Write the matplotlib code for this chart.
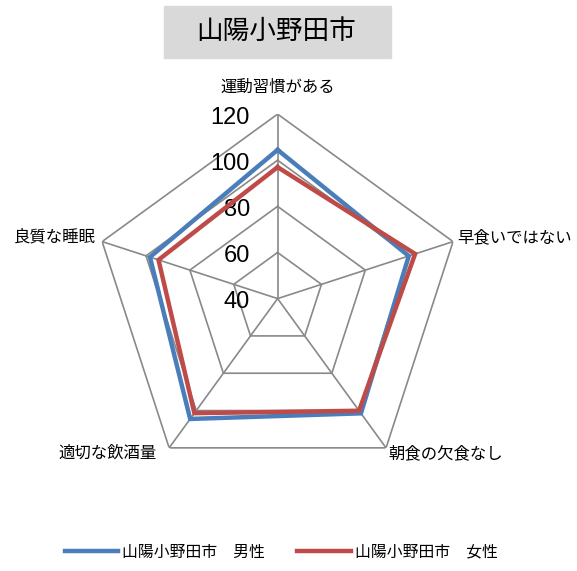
import numpy as np
import matplotlib.pyplot as plt
from matplotlib.patches import Rectangle

plt.rcParams['font.family'] = ['Noto Sans CJK JP', 'DejaVu Sans']

categories = ['運動習慣がある', '早食いではない', '朝食の欠食なし', '適切な飲酒量', '良質な睡眠']
male = [104.5, 99.8, 101.5, 104.5, 98.2]
female = [97.0, 102.7, 100.1, 101.4, 94.3]
levels = [40, 60, 80, 100, 120]
title = '山陽小野田市'
labels = ['山陽小野田市\u3000男性', '山陽小野田市\u3000女性']

W, H = 577, 571
fig = plt.figure(figsize=(W / 100, H / 100), dpi=100)

cx, cy, R = 277.6, 298.6, 184.5
ax = fig.add_axes([(cx - R) / W, (H - cy - R) / H, 2 * R / W, 2 * R / H], projection='polar')
ax.set_theta_zero_location('N')
ax.set_theta_direction(-1)
ax.set_ylim(levels[0], levels[-1])
ax.grid(False)
ax.spines['polar'].set_visible(False)
ax.set_xticks([])
ax.set_yticks([])
ax.patch.set_visible(False)

n = len(categories)
theta = np.arange(n) * 2 * np.pi / n
tc = np.append(theta, theta[0])

grid_col = '#898989'
for lv in levels[1:]:
    ax.plot(tc, [lv] * (n + 1), color=grid_col, lw=1.2, zorder=1)
for t in theta:
    ax.plot([t, t], [levels[0], levels[-1]], color=grid_col, lw=1.2, zorder=1)

ax.plot(tc, male + male[:1], color='#4a7ebb', lw=3.2, zorder=3, label=labels[0],
        solid_joinstyle='miter')
ax.plot(tc, female + female[:1], color='#be4b48', lw=3.2, zorder=4, label=labels[1],
        solid_joinstyle='miter')

for lv in levels:
    ax.annotate(str(lv), xy=(0, lv), xytext=(-20, -2.5), textcoords='offset points',
                ha='right', va='center', fontsize=17, family=['Liberation Sans', 'DejaVu Sans'])

# category labels
offs = [(0, 13, 'center', 'bottom'), (3, 3, 'left', 'center'), (2, -4, 'left', 'center'),
        (-9, -4, 'right', 'center'), (-5, 3, 'right', 'center')]
for t, c, (dx, dy, ha, va) in zip(theta, categories, offs):
    ax.annotate(c, xy=(t, levels[-1]), xytext=(dx, dy), textcoords='offset points',
                ha=ha, va=va, fontsize=11.8)

# title box
fig.patches.append(Rectangle((164 / W, 1 - 58 / H), (391 - 164) / W, 52 / H,
                             transform=fig.transFigure, color='#d9d9d9', zorder=0))
fig.text(276 / W, 1 - 31 / H, title, ha='center', va='center', fontsize=19.2)

fig.legend(loc='center', bbox_to_anchor=(281 / W, 1 - 552 / H), ncol=2, frameon=False,
           fontsize=11.4, handlelength=3.4, handletextpad=0.25, columnspacing=2.0)

fig.savefig('out.png', dpi=100)
